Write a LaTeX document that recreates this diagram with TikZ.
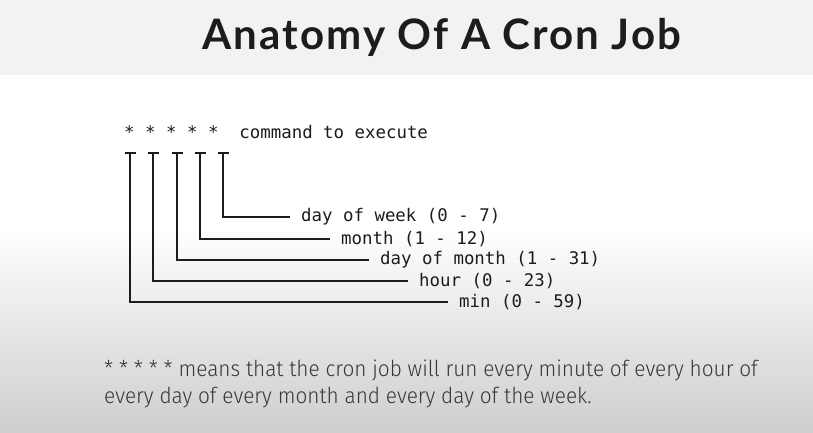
\documentclass[tikz,border=0pt]{standalone}
\usepackage{fontspec}
\setmainfont{Fira Sans}
\newfontfamily\titlefont[LetterSpace=5]{Lato}
\newfontfamily\bodyfont[UprightFont={* Light},FakeStretch=0.946]{Fira Sans}
\setmonofont{DejaVu Sans Mono}
\definecolor{band}{RGB}{242,242,242}
\definecolor{floor}{RGB}{206,206,206}
\definecolor{ink}{RGB}{28,28,28}
\definecolor{bodyink}{RGB}{55,55,55}
\tikzset{
  px/.style={x=1pt,y=-1pt},
  field/.style={anchor=west,inner xsep=11pt,inner ysep=0pt,font=\ttfamily\fontsize{17.4}{20}\selectfont,text=ink},
  wire/.style={draw=ink,line width=1.1pt},
}
\begin{document}
\begin{tikzpicture}[px]
  % canvas and background
  \useasboundingbox (0,0) rectangle (813,433);
  \fill[white] (0,0) rectangle (813,433);
  \shade[top color=white,bottom color=floor] (0,225) rectangle (813,433);
  \fill[band] (0,0) rectangle (813,75);

  % heading
  \node[anchor=base,inner sep=0pt,text=ink,font=\titlefont\bfseries\fontsize{42}{46}\selectfont] (title) at (442,50) {Anatomy Of A Cron Job};

  % crontab line
  \node[anchor=base west,inner sep=0pt,text=ink,font=\ttfamily\fontsize{17.4}{20}\selectfont] (line) at (124,139) {* * * * *\ \ command to execute};

  % tops of the five field markers
  \coordinate (t1) at (130,153);
  \coordinate (t2) at (153,153);
  \coordinate (t3) at (177,153);
  \coordinate (t4) at (200,153);
  \coordinate (t5) at (223,153);

  % field descriptions
  \node[field] (f5) at (290,217) {day of week (0 - 7)};
  \node[field] (f4) at (330,239) {month (1 - 12)};
  \node[field] (f3) at (369,260) {day of month (1 - 31)};
  \node[field] (f2) at (408,281) {hour (0 - 23)};
  \node[field] (f1) at (448,302) {min (0 - 59)};

  % markers and their connectors
  \foreach \i in {1,...,5} {
    \draw[wire] ([xshift=-5.5pt]t\i) -- ([xshift=5.5pt]t\i);
    \draw[wire] (t\i) |- (f\i.west);
  }

  % explanation, two lines
  \node[anchor=base west,inner sep=0pt,text=bodyink,font=\bodyfont\fontsize{22}{27}\selectfont] (note1) at (104,376)
    {* * * * * means that the cron job will run every minute of every hour of};
  \node[anchor=base west,inner sep=0pt,text=bodyink,font=\bodyfont\fontsize{22}{27}\selectfont] (note2) at (104,403)
    {every day of every month and every day of the week.};
\end{tikzpicture}
\end{document}
